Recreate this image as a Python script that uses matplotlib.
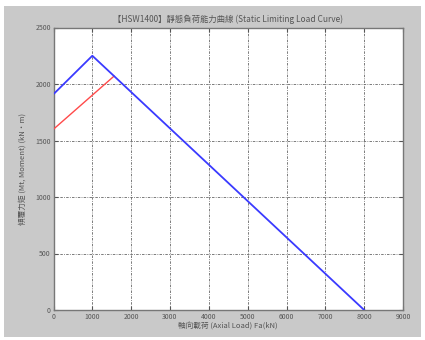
import matplotlib
matplotlib.use("Agg")
import matplotlib.pyplot as plt
from matplotlib.patches import Rectangle

plt.rcParams['font.family'] = ['Noto Sans CJK TC', 'DejaVu Sans']

# Data
blue_x = [0, 1000, 8000]
blue_y = [1910, 2250, 0]
red_x = [0, 1560]
red_y = [1600, 2070]
x_ticks = [0, 1000, 2000, 3000, 4000, 5000, 6000, 7000, 8000, 9000]
y_ticks = [0, 500, 1000, 1500, 2000, 2500]

title = "【HSW1400】靜態負荷能力曲線 (Static Limiting Load Curve)"
xlabel = "軸向載荷 (Axial Load) Fa(kN)"
ylabel = "傾覆力矩 (Mt, Moment) (kN·m)"

fig = plt.figure(figsize=(4.25, 3.40), dpi=100, facecolor='white')
fig.patches.append(Rectangle((4/425, 3/340), 417/425, 331/340, transform=fig.transFigure,
                             facecolor='#c9c9c9', edgecolor='none', zorder=-10))

ax = fig.add_axes([53.5/425, 30/340, 349.5/425, 282.5/340])
ax.set_facecolor('white')
ax.plot(red_x, red_y, color='#ff4a4a', lw=1.0, zorder=3)
ax.plot(blue_x, blue_y, color='#3a3aff', lw=1.3, zorder=4)

ax.set_xlim(0, 9000)
ax.set_ylim(0, 2500)
ax.set_xticks(x_ticks)
ax.set_yticks(y_ticks)
ax.tick_params(direction='in', length=3, labelsize=5, colors='#555555', top=True, right=True, pad=2)
ax.grid(True, linestyle=(0, (3, 1.5, 1, 1.5)), color='#666666', lw=0.6)
for s in ax.spines.values():
    s.set_color('#777777')
    s.set_linewidth(1.0)

ax.set_title(title, fontsize=6, color='#555555', pad=4)
ax.set_xlabel(xlabel, fontsize=5.5, color='#555555', labelpad=1)
ax.set_ylabel(ylabel, fontsize=5.5, color='#555555', labelpad=6)

fig.savefig('out.png', dpi=100, facecolor='white')
